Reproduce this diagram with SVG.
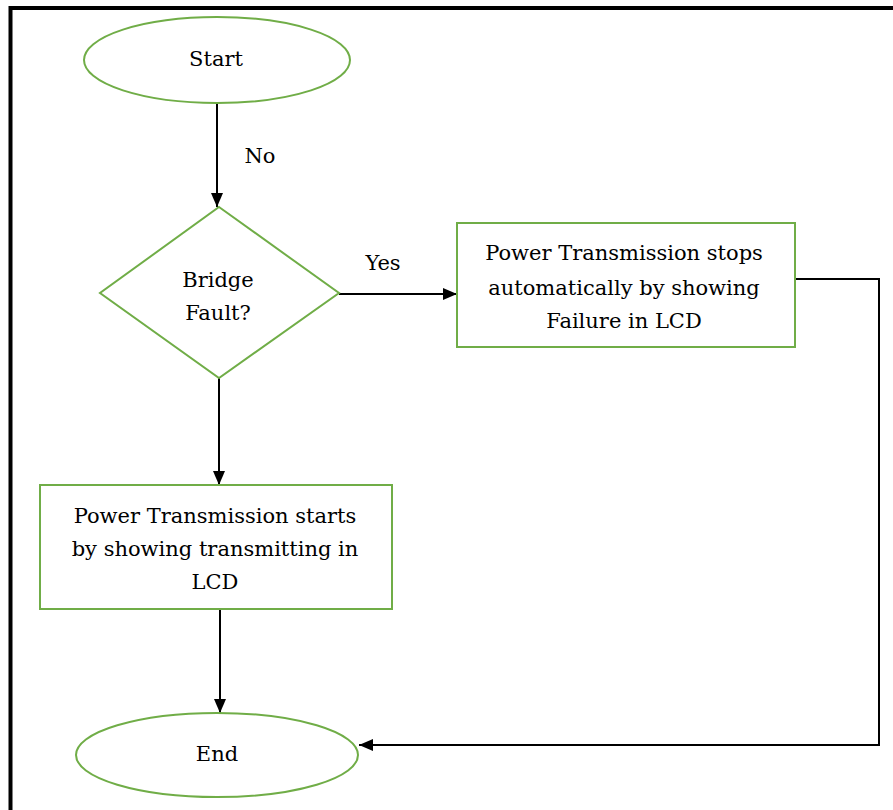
<svg xmlns="http://www.w3.org/2000/svg" width="893" height="810" viewBox="0 0 893 810">
  <style>
    .shape { fill: #ffffff; stroke: #70AD47; stroke-width: 2; }
    .lbl { font-family: 'DejaVu Serif', serif; font-size: 21px; fill: #000; text-anchor: middle; }
    .conn { fill: none; stroke: #000; stroke-width: 2; }
    .frame { fill: none; stroke: #000; stroke-width: 4; }
  </style>
  <defs>
    <marker id="arrow" viewBox="0 0 14 12" refX="14" refY="6" markerWidth="14" markerHeight="12" markerUnits="userSpaceOnUse" orient="auto">
      <path d="M0,0 L14,6 L0,12 Z" fill="#000"/>
    </marker>
  </defs>
  <rect width="893" height="810" fill="#ffffff"/>
  <path class="frame" d="M10.5,810 L10.5,8 L893,8"/>

  <g id="connectors">
    <path class="conn" d="M217,103 L217,207" marker-end="url(#arrow)"/>
    <path class="conn" d="M339,294 L457,294" marker-end="url(#arrow)"/>
    <path class="conn" d="M219,378 L219,485" marker-end="url(#arrow)"/>
    <path class="conn" d="M220,609 L220,713" marker-end="url(#arrow)"/>
    <path class="conn" d="M795,279 L879,279 L879,745 L359,745" marker-end="url(#arrow)"/>
    <text class="lbl" x="260" y="163">No</text>
    <text class="lbl" x="383" y="270">Yes</text>
  </g>

  <g id="start">
    <ellipse class="shape" cx="217" cy="60" rx="133" ry="43"/>
    <text class="lbl" x="216" y="66">Start</text>
  </g>

  <g id="decision">
    <polygon class="shape" points="219,207 339,293 219,378 100,293"/>
    <text class="lbl" x="218" y="287">Bridge</text>
    <text class="lbl" x="218" y="320">Fault?</text>
  </g>

  <g id="stop-box">
    <rect class="shape" x="457" y="223" width="338" height="124"/>
    <text class="lbl" x="624" y="260">Power Transmission stops</text>
    <text class="lbl" x="624" y="295">automatically by showing</text>
    <text class="lbl" x="624" y="328">Failure in LCD</text>
  </g>

  <g id="start-box">
    <rect class="shape" x="40" y="485" width="352" height="124"/>
    <text class="lbl" x="215" y="523">Power Transmission starts</text>
    <text class="lbl" x="215" y="556">by showing transmitting in</text>
    <text class="lbl" x="215" y="589">LCD</text>
  </g>

  <g id="end">
    <ellipse class="shape" cx="217" cy="755" rx="141" ry="42"/>
    <text class="lbl" x="217" y="761">End</text>
  </g>
</svg>
